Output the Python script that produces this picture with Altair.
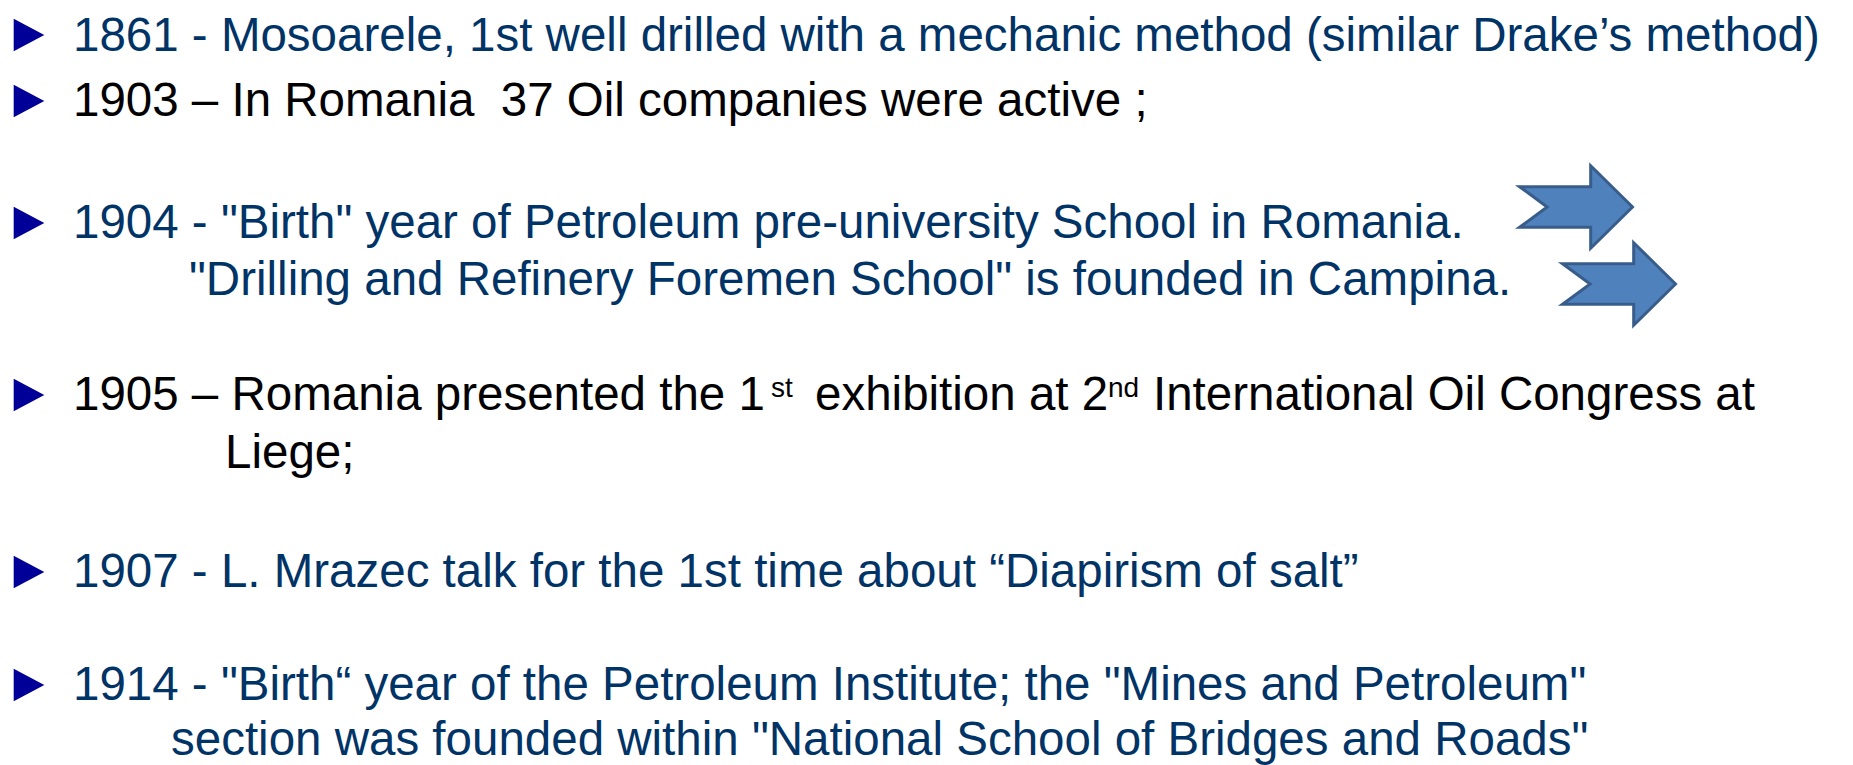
import altair as alt
import pandas as pd

# ---- content ----
texts = [
    "1861 - Mosoarele, 1st well drilled with a mechanic method (similar Drake\u2019s method)",
    "1903 \u2013 In Romania\u00a0 37 Oil companies were active ;",
    "1904 - \"Birth\" year of Petroleum pre-university School in Romania.",
    "\"Drilling and Refinery Foremen School\" is founded in Campina.",
    "1905 \u2013 Romania presented the 1",
    "exhibition at 2",
    "International Oil Congress at",
    "Liege;",
    "1907 - L. Mrazec talk for the 1st time about \u201cDiapirism of salt\u201d",
    "1914 - \"Birth\u201c year of the Petroleum Institute; the \"Mines and Petroleum\"",
    "section was founded within \"National School of Bridges and Roads\"",
]
text_x = [73, 73, 73, 189, 73, 815, 1153, 225, 73, 73, 171]
text_y = [51, 116, 238, 295, 410, 410, 410, 468, 587, 700, 755]
text_tone = ["blue", "black", "blue", "blue", "black", "black", "black",
             "black", "blue", "blue", "blue"]

sup_texts = ["st", "nd"]
sup_x = [771, 1108]
sup_y = [397, 397]

bullet_x = [29, 29, 29, 29, 29, 29]
bullet_y = [35, 101, 223, 395, 572, 685]

arrow_x = [1576, 1619]
arrow_y = [207, 284]

W, H = 1837, 749
X0, Y0 = 8, 8

xs = alt.Scale(domain=[X0, X0 + W])
ys = alt.Scale(domain=[Y0 + H, Y0])

df_text = pd.DataFrame({"x": text_x, "y": text_y, "t": texts, "tone": text_tone})
df_sup = pd.DataFrame({"x": sup_x, "y": sup_y, "t": sup_texts})
df_bul = pd.DataFrame({"x": bullet_x, "y": bullet_y})
df_arr = pd.DataFrame({"x": arrow_x, "y": arrow_y})

color_scale = alt.Scale(domain=["blue", "black"], range=["#003366", "#000000"])

main_text = alt.Chart(df_text).mark_text(
    align="left", baseline="alphabetic", font="Liberation Sans", fontSize=47.5
).encode(
    x=alt.X("x:Q", scale=xs, axis=None),
    y=alt.Y("y:Q", scale=ys, axis=None),
    text="t:N",
    color=alt.Color("tone:N", scale=color_scale, legend=None),
)

sup_text = alt.Chart(df_sup).mark_text(
    align="left", baseline="alphabetic", font="Liberation Sans", fontSize=28,
    color="#000000"
).encode(
    x=alt.X("x:Q", scale=xs, axis=None),
    y=alt.Y("y:Q", scale=ys, axis=None),
    text="t:N",
)

tri = "M -0.85 -0.9 L 0.85 0 L -0.85 0.9 Z"
bullets = alt.Chart(df_bul).mark_point(
    shape=tri, filled=True, color="#000099", opacity=1, size=36 * 36
).encode(
    x=alt.X("x:Q", scale=xs, axis=None),
    y=alt.Y("y:Q", scale=ys, axis=None),
)

arrow_path = "M -1 -0.36 L 0.26 -0.36 L 0.26 -0.73 L 1 0 L 0.26 0.73 L 0.26 0.36 L -1 0.36 L -0.51 0 Z"
arrows = alt.Chart(df_arr).mark_point(
    shape=arrow_path, filled=True, fill="#4F81BD", stroke="#385D8A",
    strokeWidth=3, opacity=1, fillOpacity=1, size=113 * 113
).encode(
    x=alt.X("x:Q", scale=xs, axis=None),
    y=alt.Y("y:Q", scale=ys, axis=None),
)

chart = alt.layer(arrows, bullets, main_text, sup_text).properties(
    width=W, height=H, padding=0
).configure_view(stroke=None)

chart.save("out.html", embed_options={"renderer": "svg", "actions": False})
